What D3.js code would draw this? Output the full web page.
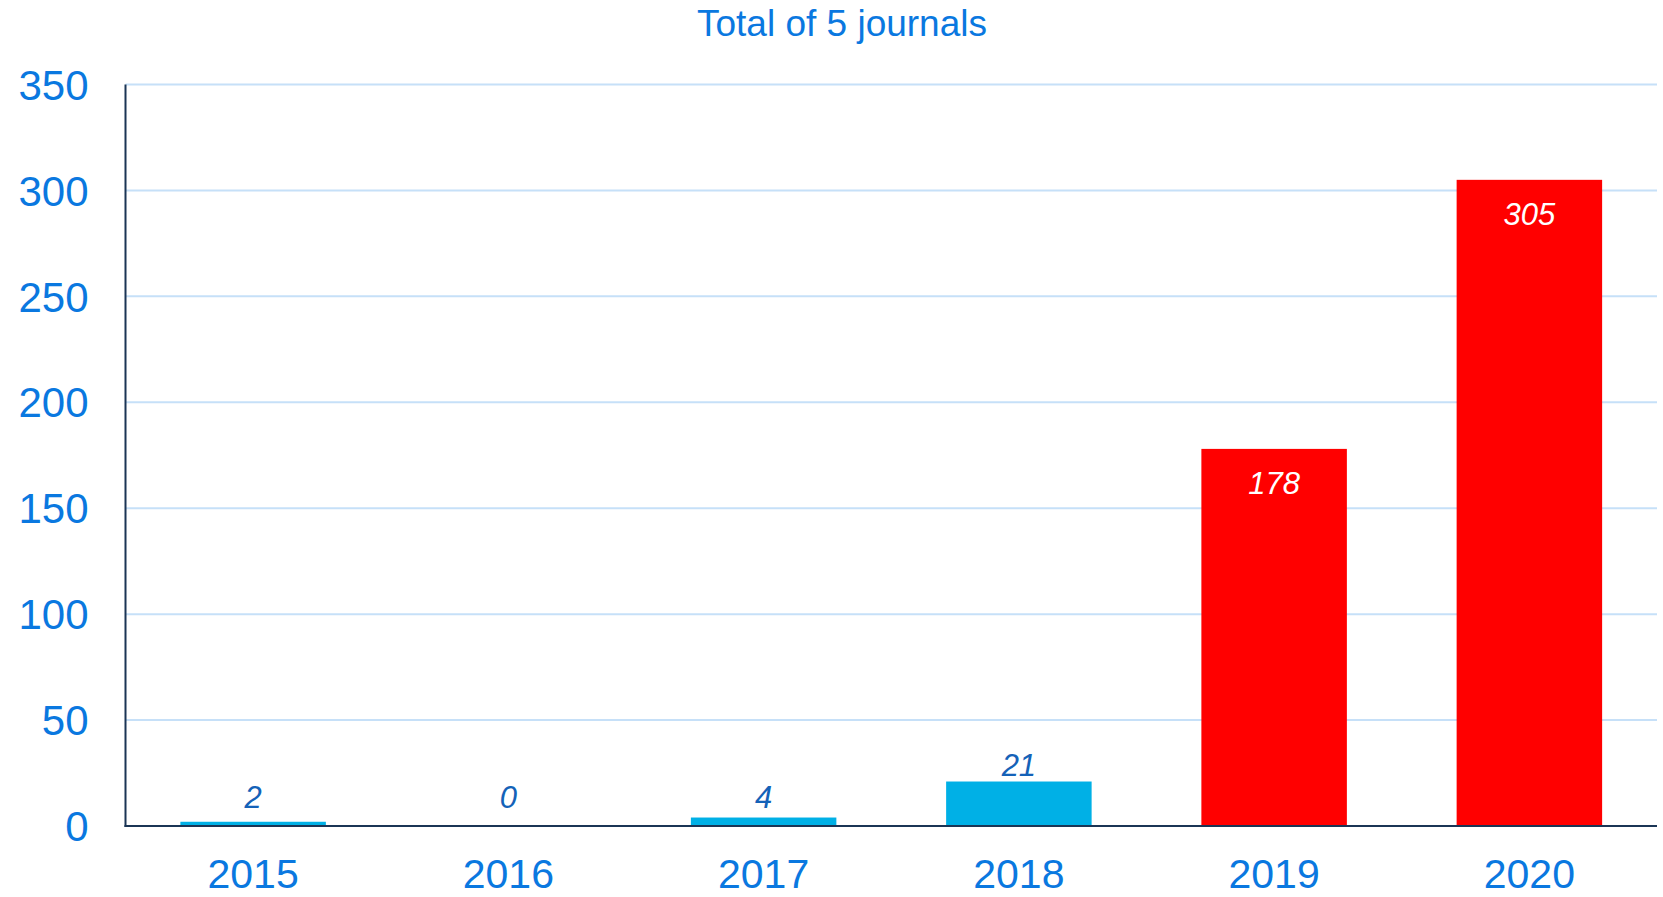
<!DOCTYPE html>
<html>
<head>
<meta charset="utf-8">
<script src="https://cdn.jsdelivr.net/npm/d3@7/dist/d3.min.js"></script>
<style>
  html, body { margin: 0; padding: 0; background: #fff; }
  svg { display: block; font-family: "Liberation Sans", Arial, sans-serif; }
</style>
</head>
<body>
<svg id="chart" width="1663" height="897"></svg>
<script>
const titleText = "Total of 5 journals";
const categories = ["2015", "2016", "2017", "2018", "2019", "2020"];
const values = [2, 0, 4, 21, 178, 305];
const highlight = [false, false, false, false, true, true];
const yTicks = [0, 50, 100, 150, 200, 250, 300, 350];

const W = 1663, H = 897;
const margin = { left: 125.5, right: 6, top: 84.5, bottom: 71 };
const svg = d3.select("#chart");

const x = d3.scaleBand().domain(categories)
  .range([margin.left, W - margin.right]).paddingInner(0.43).paddingOuter(0.215);
const y = d3.scaleLinear().domain([0, 350]).range([H - margin.bottom, margin.top]);

// gridlines
svg.append("g").selectAll("line").data(yTicks.filter(d => d > 0)).join("line")
  .attr("x1", margin.left).attr("x2", W - margin.right)
  .attr("y1", d => y(d)).attr("y2", d => y(d))
  .attr("stroke", "#c6e0f8").attr("stroke-width", 2);

// y axis labels
const yAxis = d3.axisLeft(y).tickValues(yTicks).tickSize(0).tickPadding(37);
const gy = svg.append("g").attr("transform", `translate(${margin.left},0)`).call(yAxis);
gy.select(".domain").remove();
gy.selectAll("text").attr("fill", "#0a78e0").attr("font-size", 42)
  .attr("font-family", "'Liberation Sans', Arial, sans-serif").attr("dy", "0.35em");

// x axis labels
const xAxis = d3.axisBottom(x).tickSize(0).tickPadding(0);
const gx = svg.append("g").attr("transform", `translate(0,${y(0)})`).call(xAxis);
gx.select(".domain").remove();
gx.selectAll("text").attr("fill", "#0a78e0").attr("font-size", 41)
  .attr("font-family", "'Liberation Sans', Arial, sans-serif")
  .attr("dy", null).attr("y", 62);

// bars
svg.append("g").selectAll("rect").data(values).join("rect")
  .attr("x", (d, i) => x(categories[i]))
  .attr("width", x.bandwidth())
  .attr("y", d => y(d))
  .attr("height", d => y(0) - y(d))
  .attr("fill", (d, i) => highlight[i] ? "#ff0000" : "#00b0e6");

// axis lines
svg.append("line").attr("x1", margin.left).attr("x2", margin.left)
  .attr("y1", y(350)).attr("y2", y(0) + 1)
  .attr("stroke", "#1b3555").attr("stroke-width", 2);
svg.append("line").attr("x1", margin.left - 1).attr("x2", W - margin.right)
  .attr("y1", y(0)).attr("y2", y(0))
  .attr("stroke", "#1b3555").attr("stroke-width", 2);

// value labels
svg.append("g").selectAll("text").data(values).join("text")
  .attr("x", (d, i) => x(categories[i]) + x.bandwidth() / 2)
  .attr("y", (d, i) => highlight[i] ? y(d) + 45 : Math.min(y(d) - 6, y(0) - 18))
  .attr("text-anchor", "middle")
  .attr("font-style", "italic")
  .attr("font-size", 31)
  .attr("fill", (d, i) => highlight[i] ? "#ffffff" : "#1462b8")
  .text(d => d);

// title
svg.append("text").attr("x", 842).attr("y", 36)
  .attr("text-anchor", "middle").attr("font-size", 37).attr("fill", "#0a78e0")
  .text(titleText);
</script>
</body>
</html>
